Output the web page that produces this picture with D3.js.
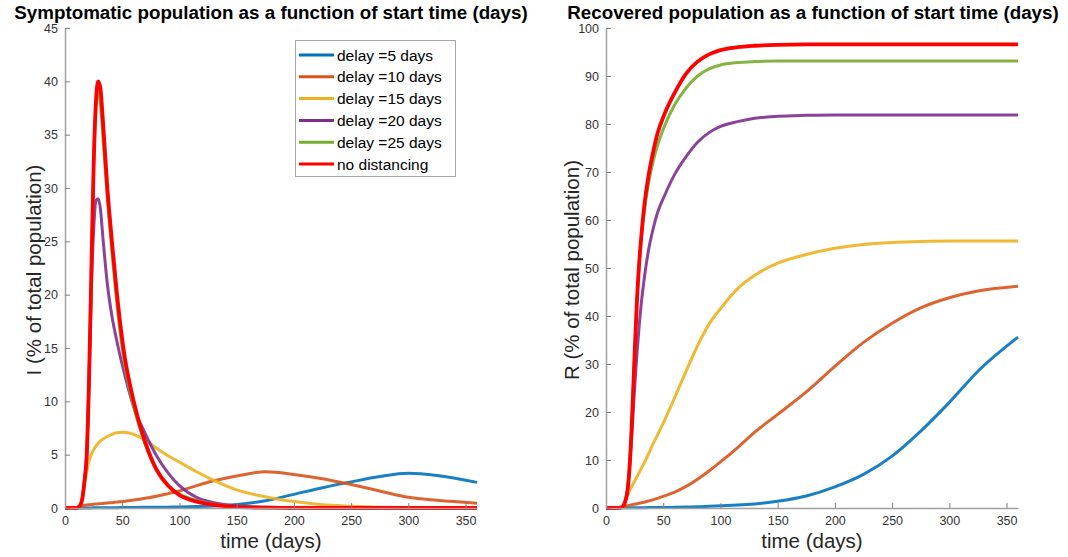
<!DOCTYPE html>
<html>
<head>
<meta charset="utf-8">
<script src="https://cdn.jsdelivr.net/npm/d3@7"></script>
<style>
html,body{margin:0;padding:0;background:#fff;}
svg{display:block;}
text{font-family:"Liberation Sans",Arial,Helvetica,sans-serif;}
</style>
</head>
<body>
<svg id="c" width="1068" height="557"></svg>
<script>
// ---------- DATA ----------
const seriesNames = ["delay =5 days","delay =10 days","delay =15 days","delay =20 days","delay =25 days","no distancing"];
const seriesColors = ["#0072BD","#D95319","#EDB120","#7E2F8E","#77AC30","#FF0000"];
const days = [0,10,13,15,17,19,21,23,25,27,29,31,33,37,41,45,51,60,70,80,90,100,115,130,150,175,200,225,250,275,300,325,360];

// Symptomatic population I (% of total)
const I_delay5  = [0,0.01,0.01,0.01,0.01,0.01,0.01,0.01,0.02,0.02,0.02,0.02,0.02,0.03,0.03,0.03,0.04,0.05,0.06,0.07,0.08,0.1,0.13,0.18,0.32,0.68,1.28,1.9,2.45,2.95,3.25,3.05,2.4];
const I_delay10 = [0,0.05,0.15,0.2,0.25,0.28,0.3,0.32,0.35,0.37,0.39,0.41,0.43,0.47,0.5,0.55,0.62,0.75,0.92,1.1,1.35,1.6,2.1,2.55,3.0,3.4,3.15,2.75,2.2,1.6,1.0,0.72,0.45];
const I_delay15 = [0,0,0.2,0.8,2.2,3.4,4.4,5.0,5.45,5.8,6.05,6.3,6.45,6.7,6.9,7.05,7.1,6.9,6.35,5.6,4.9,4.3,3.4,2.6,1.7,1.05,0.6,0.3,0.17,0.08,0.04,0.02,0.01];
const I_delay20 = [0,0,0.2,0.8,2.5,5,12,20.5,26,28.8,29,28,25.5,21,18,15.8,13,9.5,7,4.9,3.3,2.1,1.0,0.5,0.2,0.06,0.02,0,0,0,0,0,0];
const I_delay25 = [0,0,0.2,0.8,2.5,5,12,22,32,37.5,39,37.8,35,29,24,19.5,14.2,9.5,6,3.5,2.1,1.3,0.7,0.35,0.12,0.03,0.01,0,0,0,0,0,0];
const I_none    = [0,0,0.2,0.8,2.5,5,12,22,32,38,40,39.3,36.5,30,25,20.5,15,10,6.2,3.6,2.1,1.2,0.6,0.3,0.1,0.03,0.01,0,0,0,0,0,0];

// Recovered population R (% of total)
const R_delay5  = [0,0.01,0.02,0.03,0.03,0.04,0.04,0.05,0.05,0.06,0.06,0.07,0.07,0.08,0.08,0.09,0.1,0.15,0.2,0.25,0.35,0.45,0.6,0.85,1.4,2.5,4.4,7,10.8,16,22,28.5,35.6];
const R_delay10 = [0,0.05,0.15,0.3,0.4,0.5,0.6,0.7,0.8,0.9,1.0,1.1,1.2,1.45,1.7,2.0,2.5,3.3,4.5,6.0,7.7,9.6,12.6,15.8,19.5,24.2,29.5,34.5,38.5,41.7,43.8,45.2,46.2];
const R_delay15 = [0,0,0.1,0.3,1.5,2.8,3.8,4.7,5.6,6.5,7.4,8.3,9.2,11.2,13.3,15.2,18.2,23,28.5,33.8,38.3,41.5,45.7,48.5,51,52.8,54.1,54.9,55.3,55.5,55.6,55.6,55.6];
const R_delay20 = [0,0,0.1,0.4,1.5,4,10,17,25,32,38,43,47,53.5,58,61.5,65,69.5,73.2,76.2,78.2,79.5,80.5,81.2,81.6,81.8,81.9,81.9,81.9,81.9,81.9,81.9,81.9];
const R_delay25 = [0,0,0.1,0.4,1.5,4,10,20,32,43,51,56.5,61,67.5,72,75.5,79.5,84,87.5,90,91.5,92.3,92.8,93,93.1,93.1,93.1,93.1,93.1,93.1,93.1,93.1,93.1];
const R_none    = [0,0,0.1,0.4,1.5,4,10,20,32,43,51,57,62,69,74,78,82,86.5,90.5,93,94.5,95.4,96,96.3,96.5,96.6,96.6,96.6,96.6,96.6,96.6,96.6,96.6];

const xTicks = [0,50,100,150,200,250,300,350];
const yTicksI = [0,5,10,15,20,25,30,35,40,45];
const yTicksR = [0,10,20,30,40,50,60,70,80,90,100];

// ---------- DRAW ----------
const svg = d3.select("#c");
const Iseries = [I_delay5,I_delay10,I_delay15,I_delay20,I_delay25,I_none];
const Rseries = [R_delay5,R_delay10,R_delay15,R_delay20,R_delay25,R_none];

function panel(cfg){
  const g = svg.append("g");
  const x = d3.scaleLinear().domain([0,360]).range([cfg.x0,cfg.x1]);
  const y = d3.scaleLinear().domain([0,cfg.ymax]).range([508,28]);

  const line = d3.line().x((d,i)=>x(days[i])).y(d=>y(d)).curve(d3.curveMonotoneX);
  cfg.data.forEach((arr,k)=>{
    g.append("path").datum(arr)
      .attr("d",line)
      .attr("fill","none")
      .attr("stroke",seriesColors[k])
      .attr("stroke-width",k===5?3.8:3)
      .attr("stroke-opacity",k===5?1:0.9)
      .attr("stroke-linejoin","round")
      .attr("stroke-linecap","butt");
  });

  const xa = g.append("g").attr("transform",`translate(0,508)`)
    .call(d3.axisBottom(x).tickValues(xTicks).tickSize(-5).tickPadding(8).tickSizeOuter(0));
  const ya = g.append("g").attr("transform",`translate(${cfg.x0},0)`)
    .call(d3.axisLeft(y).tickValues(cfg.yticks).tickSize(-5).tickPadding(7).tickSizeOuter(0));
  [xa,ya].forEach(a=>{
    a.select(".domain").attr("stroke","#a0a0a0").attr("stroke-width",1.5);
    a.selectAll(".tick line").attr("stroke","#808080");
    a.selectAll(".tick text").attr("fill","#333").attr("font-size",12.5)
      .attr("font-family","'Liberation Sans',Arial,sans-serif");
  });

  svg.append("text").attr("x",cfg.titleX).attr("y",19).attr("text-anchor","middle")
    .attr("font-weight","bold").attr("font-size",18.8).attr("fill","#000").text(cfg.title);
  svg.append("text").attr("x",(cfg.x0+cfg.x1)/2).attr("y",548).attr("text-anchor","middle")
    .attr("font-size",20.5).attr("fill","#262626").text("time (days)");
  svg.append("text").attr("transform",`translate(${cfg.ylabX},270) rotate(-90)`)
    .attr("text-anchor","middle").attr("font-size",20.5).attr("fill","#262626").text(cfg.ylab);
}

panel({x0:65,x1:477,ymax:45,yticks:yTicksI,data:Iseries,
  title:"Symptomatic population as a function of start time (days)",titleX:271,
  ylab:"I (% of total population)",ylabX:41});
panel({x0:606,x1:1018,ymax:100,yticks:yTicksR,data:Rseries,
  title:"Recovered population as a function of start time (days)",titleX:813,
  ylab:"R (% of total population)",ylabX:579});

// legend
const lg = svg.append("g");
lg.append("rect").attr("x",295.5).attr("y",40.5).attr("width",160).attr("height",136)
  .attr("fill","#fff").attr("stroke","#a8a8a8").attr("stroke-width",1);
seriesNames.forEach((n,k)=>{
  const yy = 55 + k*21.8;
  lg.append("line").attr("x1",299).attr("x2",334).attr("y1",yy).attr("y2",yy)
    .attr("stroke",seriesColors[k]).attr("stroke-width",3);
  lg.append("text").attr("x",337).attr("y",yy+5.5).attr("font-size",15.5).attr("fill","#000").text(n);
});
</script>
</body>
</html>
